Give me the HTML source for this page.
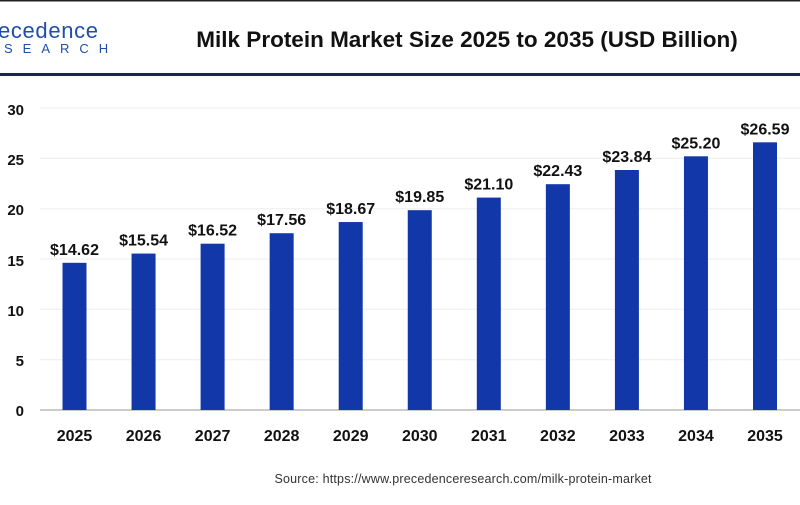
<!DOCTYPE html>
<html><head><style>
body{margin:0;width:800px;height:500px;background:#fff;overflow:hidden;font-family:"Liberation Sans",Arial,sans-serif}
</style></head><body>
<svg width="800" height="500" xmlns="http://www.w3.org/2000/svg" font-family="Liberation Sans, Arial, sans-serif">
<rect x="0" y="0" width="800" height="1.5" fill="#222"/>
<text x="-2" y="38" font-size="22" fill="#1f4fa8" textLength="100">ecedence</text>
<text x="4" y="53" font-size="13" fill="#1f4fa8" letter-spacing="10">SEARCH</text>
<text x="467" y="47" font-size="22.5" font-weight="bold" text-anchor="middle" fill="#111">Milk Protein Market Size 2025 to 2035 (USD Billion)</text>
<rect x="0" y="73" width="800" height="3" fill="#1a2550"/>
<g stroke="#eeeeee" stroke-width="1">
<line x1="40" x2="800" y1="108" y2="108"/><line x1="40" x2="800" y1="158.3" y2="158.3"/>
<line x1="40" x2="800" y1="208.7" y2="208.7"/><line x1="40" x2="800" y1="259" y2="259"/>
<line x1="40" x2="800" y1="309.3" y2="309.3"/><line x1="40" x2="800" y1="359.7" y2="359.7"/>
</g>
<line x1="40" x2="800" y1="410" y2="410" stroke="#bbb" stroke-width="1.5"/>
<g font-size="15" font-weight="bold" fill="#111" text-anchor="end">
<text x="24" y="115">30</text><text x="24" y="165">25</text><text x="24" y="215">20</text>
<text x="24" y="266">15</text><text x="24" y="316">10</text><text x="24" y="366">5</text><text x="24" y="416">0</text>
</g>
<g id="bars" fill="#1237a8"></g>
<g id="lbl" font-size="16" font-weight="bold" fill="#111" text-anchor="middle"></g>
<text x="463" y="483" font-size="12.5" fill="#333" text-anchor="middle" textLength="377">Source: https://www.precedenceresearch.com/milk-protein-market</text>
<script>
var v=[14.62,15.54,16.52,17.56,18.67,19.85,21.10,22.43,23.84,25.20,26.59];
var b=document.getElementById('bars'),l=document.getElementById('lbl'),ns='http://www.w3.org/2000/svg';
v.forEach(function(d,i){var cx=74.5+i*69.05,h=d*10.067,y=410-h;
var r=document.createElementNS(ns,'rect');r.setAttribute('x',cx-12);r.setAttribute('y',y);r.setAttribute('width',24);r.setAttribute('height',h);b.appendChild(r);
var t=document.createElementNS(ns,'text');t.setAttribute('x',cx);t.setAttribute('y',y-8);t.textContent='$'+d.toFixed(2);l.appendChild(t);
var t2=document.createElementNS(ns,'text');t2.setAttribute('x',cx);t2.setAttribute('y',441);t2.textContent=2025+i;l.appendChild(t2);});
</script>
</svg>
</body></html>
